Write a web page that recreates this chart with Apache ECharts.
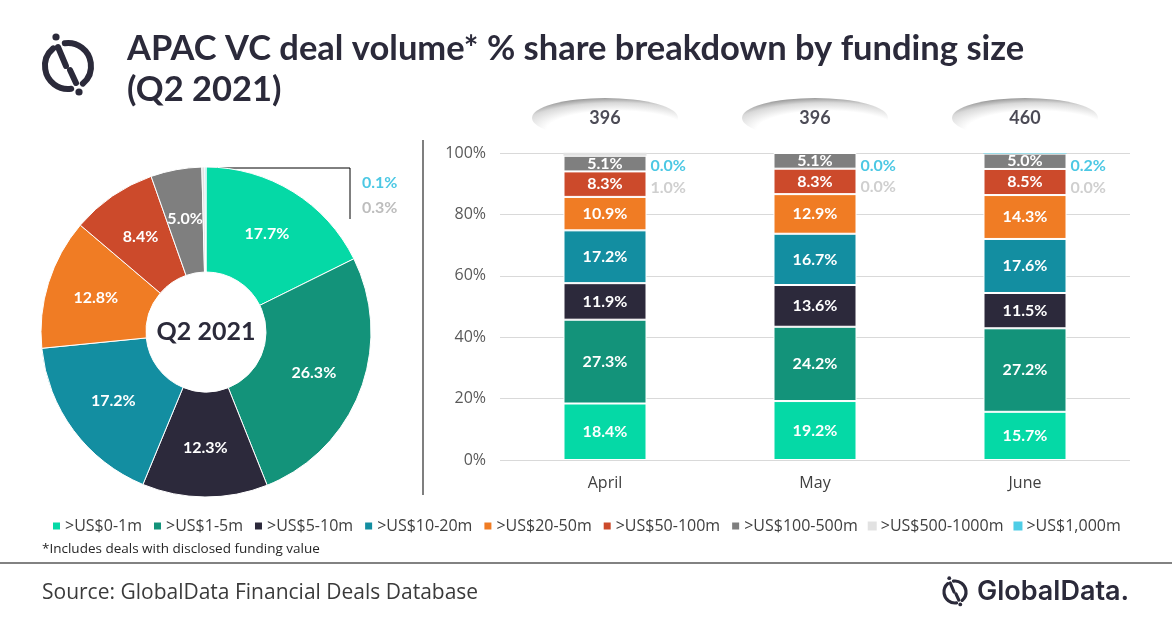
<!DOCTYPE html>
<html>
<head>
<meta charset="utf-8">
<script src="https://cdn.jsdelivr.net/npm/echarts@6/dist/echarts.min.js"></script>
<style>
html,body{margin:0;padding:0;background:#fff;}
#main{width:1172px;height:628px;}
</style>
</head>
<body>
<div id="main"></div>
<script>
// ---- data ----
const categories = ['April', 'May', 'June'];
const seriesNames = ['>US$0-1m', '>US$1-5m', '>US$5-10m', '>US$10-20m', '>US$20-50m', '>US$50-100m', '>US$100-500m', '>US$500-1000m', '>US$1,000m'];
const s0to1m = [18.4, 19.2, 15.7];
const s1to5m = [27.3, 24.2, 27.2];
const s5to10m = [11.9, 13.6, 11.5];
const s10to20m = [17.2, 16.7, 17.6];
const s20to50m = [10.9, 12.9, 14.3];
const s50to100m = [8.3, 8.3, 8.5];
const s100to500m = [5.1, 5.1, 5.0];
const s500to1000m = [1.0, 0.0, 0.0];
const s1000m = [0.0, 0.0, 0.2];
const dealTotals = [396, 396, 460];
const pieQ2 = [17.7, 26.3, 12.3, 17.2, 12.8, 8.4, 5.0, 0.3, 0.1];
const yTickLabels = ['0%', '20%', '40%', '60%', '80%', '100%'];

// ---- style ----
const colors = ['#05d9a6', '#13937a', '#2c293b', '#138ea1', '#f07c24', '#cc4a2b', '#7f7f7f', '#e2e2e2', '#4ecde6'];
const barData = [s0to1m, s1to5m, s5to10m, s10to20m, s20to50m, s50to100m, s100to500m, s500to1000m, s1000m];
const dark = '#2b2a3a';
const F = 'Lato, "Open Sans", sans-serif';

const chart = echarts.init(document.getElementById('main'), null, {renderer: 'canvas'});

const barSeries = barData.map((arr, i) => {
  const outside = i >= 7;
  return {
    name: seriesNames[i],
    type: 'bar',
    stack: 'total',
    clip: false,
    xAxisIndex: 0, yAxisIndex: 0,
    barWidth: 83,
    data: arr,
    itemStyle: {color: colors[i], borderColor: '#fff', borderWidth: outside ? 0 : 1},
    label: outside ? {
      show: true,
      position: 'right',
      distance: 4,
      offset: i === 8 ? [0, 13] : [0, 34],
      formatter: p => p.value.toFixed(1) + '%',
      color: i === 8 ? '#4cc8e4' : '#cfcfcf',
      fontFamily: F, fontWeight: 'bold', fontSize: 16
    } : {
      show: true,
      position: 'inside',
      formatter: p => p.value.toFixed(1) + '%',
      color: '#fff',
      fontFamily: F, fontWeight: 'bold', fontSize: 16
    }
  };
});

function logo(cx, cy, r, w) {
  const d2r = Math.PI / 180;
  const els = [];
  els.push({type: 'arc', shape: {cx, cy, r, startAngle: -98 * d2r, endAngle: 50 * d2r, clockwise: true},
    style: {stroke: dark, lineWidth: w, fill: null, lineCap: 'round'}, silent: true});
  els.push({type: 'arc', shape: {cx, cy, r, startAngle: 82 * d2r, endAngle: 230 * d2r, clockwise: true},
    style: {stroke: dark, lineWidth: w, fill: null, lineCap: 'round'}, silent: true});
  const k = r / 23;
  els.push({type: 'line', shape: {x1: cx - 10 * k, y1: cy - 19 * k, x2: cx - 2 * k, y2: cy + 0 * k},
    style: {stroke: dark, lineWidth: w, lineCap: 'round'}, silent: true});
  els.push({type: 'line', shape: {x1: cx + 2 * k, y1: cy + 4 * k, x2: cx + 8 * k, y2: cy + 17 * k},
    style: {stroke: dark, lineWidth: w, lineCap: 'round'}, silent: true});
  els.push({type: 'circle', shape: {cx: cx - 12 * k, cy: cy - 29 * k, r: w * 0.6}, style: {fill: dark}, silent: true});
  els.push({type: 'circle', shape: {cx: cx + 11 * k, cy: cy + 26 * k, r: w * 0.6}, style: {fill: dark}, silent: true});
  return els;
}

const option = {
  backgroundColor: '#fff',
  animation: false,
  title: {
    text: 'APAC VC deal volume* % share breakdown by funding size\n(Q2 2021)',
    left: 122, top: 23,
    textStyle: {fontFamily: F, fontWeight: 'bold', fontSize: 34.5, lineHeight: 41, color: dark}
  },
  legend: {
    data: seriesNames,
    left: 46, top: 513,
    icon: 'rect', itemWidth: 9, itemHeight: 9, itemGap: 10,
    textStyle: {fontFamily: '"Open Sans", sans-serif', fontSize: 16, color: '#404040', padding: [0, 0, 0, -1]},
    selectedMode: false
  },
  grid: [
    {left: 500, right: 42, top: 153, bottom: 168},
    {left: 500, right: 42, top: 98, height: 40}
  ],
  xAxis: [
    {type: 'category', gridIndex: 0, data: categories,
      axisLine: {show: false}, axisTick: {show: false},
      axisLabel: {fontFamily: '"Open Sans", sans-serif', fontSize: 16, color: '#404040', margin: 15}},
    {type: 'category', gridIndex: 1, data: categories, show: false}
  ],
  yAxis: [
    {type: 'value', gridIndex: 0, min: 0, max: 100, interval: 20,
      axisLine: {show: false}, axisTick: {show: false},
      splitLine: {lineStyle: {color: '#d9d9d9', width: 1}},
      axisLabel: {fontFamily: '"Open Sans", sans-serif', fontSize: 16, color: '#595959', margin: 14,
        formatter: v => yTickLabels[Math.round(v / 20)]}},
    {type: 'value', gridIndex: 1, min: 0, max: 1, show: false}
  ],
  series: barSeries.concat([
    {
      type: 'scatter', xAxisIndex: 1, yAxisIndex: 1, silent: true,
      data: dealTotals.map((v, i) => [i, 0.5, v]),
      symbol: 'circle', symbolSize: [146, 40],
      itemStyle: {
        color: {type: 'radial', x: 0.58, y: 0.8, r: 0.8, colorStops: [
          {offset: 0, color: '#ffffff'}, {offset: 0.6, color: '#ffffff'},
          {offset: 0.85, color: '#cfcfcf'}, {offset: 1, color: '#858585'}]}
      },
      label: {show: true, position: 'inside', formatter: p => String(p.data[2]),
        fontFamily: F, fontWeight: 'bold', fontSize: 18, color: '#1e1d2a', offset: [0, 0]}
    },
    {
      type: 'pie', silent: true,
      center: [206, 332], radius: [60, 165],
      startAngle: 90, clockwise: true,
      itemStyle: {borderColor: '#fff', borderWidth: 1},
      label: {show: true, position: 'inside', formatter: p => p.value.toFixed(1) + '%',
        color: '#fff', fontFamily: F, fontWeight: 'bold', fontSize: 16},
      labelLine: {show: false},
      labelLayout: function (p) {
        if (p.dataIndex === 8) return {x: 362, y: 183, align: 'left', verticalAlign: 'middle'};
        if (p.dataIndex === 7) return {x: 362, y: 208, align: 'left', verticalAlign: 'middle'};
        return {};
      },
      data: pieQ2.map((v, i) => ({
        name: seriesNames[i], value: v,
        itemStyle: {color: colors[i]},
        label: i === 8 ? {color: '#4cc8e4'} : (i === 7 ? {color: '#bdbdbd'} : {})
      }))
    }
  ]),
  graphic: [].concat(
    logo(68, 66, 23, 6),
    logo(955, 592, 11, 3.2),
    [
      {type: 'text', left: 977, top: 578, style: {text: 'GlobalData.', fontFamily: 'Inter, sans-serif', fontWeight: 600, fontSize: 27, fill: dark}, silent: true},
      {type: 'text', style: {x: 206, y: 332, text: 'Q2 2021', align: 'center', verticalAlign: 'middle', fontFamily: F, fontWeight: 'bold', fontSize: 25, fill: dark}, silent: true},
      {type: 'polyline', shape: {points: [[206, 168], [350, 168], [350, 219]]}, style: {stroke: '#000', lineWidth: 1, fill: null}, silent: true},
      {type: 'line', shape: {x1: 423, y1: 140, x2: 423, y2: 495}, style: {stroke: '#7f7f7f', lineWidth: 2}, silent: true},
      {type: 'line', shape: {x1: 0, y1: 563, x2: 1172, y2: 563}, style: {stroke: '#595959', lineWidth: 1.5}, silent: true},
      {type: 'text', style: {x: 42, y: 549, text: '*Includes deals with disclosed funding value', verticalAlign: 'middle', fontFamily: '"Open Sans", sans-serif', fontSize: 13.5, fill: '#262626'}, silent: true},
      {type: 'text', style: {x: 42, y: 593, text: 'Source: GlobalData Financial Deals Database', verticalAlign: 'middle', fontFamily: '"Open Sans", sans-serif', fontSize: 21, fill: '#3a3a3a'}, silent: true}
    ]
  )
};
chart.setOption(option);
</script>
</body>
</html>
